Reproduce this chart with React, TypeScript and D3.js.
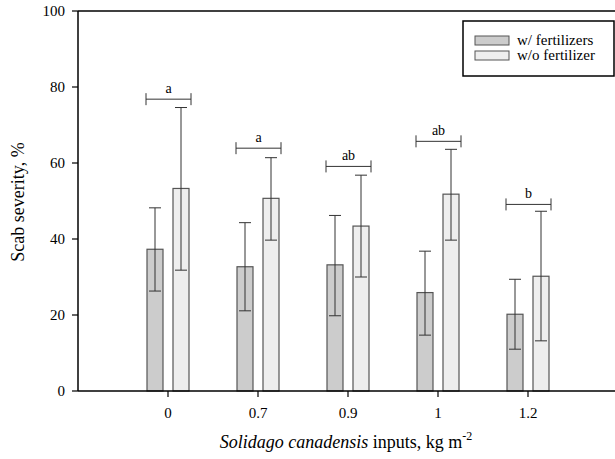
import React from "react";
import * as d3 from "d3";

const categories = ["0", "0.7", "0.9", "1", "1.2"];
const withFert = [37.3, 32.7, 33.2, 25.9, 20.2];
const withFertLow = [26.3, 21.1, 19.8, 14.7, 11.0];
const withFertHigh = [48.2, 44.3, 46.2, 36.8, 29.4];
const withoutFert = [53.3, 50.7, 43.4, 51.8, 30.2];
const withoutFertLow = [31.8, 39.7, 30.0, 39.7, 13.2];
const withoutFertHigh = [74.6, 61.4, 56.8, 63.6, 47.3];
const sigLetters = ["a", "a", "ab", "ab", "b"];
const sigLevel = [76.8, 63.9, 59.1, 65.7, 49.1];
const yTicks = [0, 20, 40, 60, 80, 100];
const seriesNames = ["w/ fertilizers", "w/o fertilizer"];
const seriesColors = ["#cccccc", "#eeeeee"];

const W = 615;
const H = 459;
const left = 78;
const right = 618;
const top = 11;
const bottom = 391;
const font = "Liberation Serif, Times New Roman, DejaVu Serif, serif";

export default function App() {
  const x = d3.scalePoint<string>().domain(categories).range([left, right]).padding(1);
  const y = d3.scaleLinear().domain([0, 100]).range([bottom, top]);
  const barW = 16;
  const gap = 5;
  const series = [
    { vals: withFert, lo: withFertLow, hi: withFertHigh, off: -gap - barW },
    { vals: withoutFert, lo: withoutFertLow, hi: withoutFertHigh, off: gap },
  ];
  return (
    <svg width={W} height={H} style={{ position: "absolute", left: 0, top: 0, fontFamily: font }}>
      <rect x={0} y={0} width={W} height={H} fill="#fff" />
      {series.map((s, si) =>
        categories.map((c, i) => {
          const x0 = (x(c) as number) + s.off;
          return (
            <g key={`b${si}-${i}`}>
              <rect
                x={x0}
                y={y(s.vals[i])}
                width={barW}
                height={bottom - y(s.vals[i])}
                fill={seriesColors[si]}
                stroke="#555"
                strokeWidth={1.2}
              />
              <line x1={x0 + barW / 2} x2={x0 + barW / 2} y1={y(s.lo[i])} y2={y(s.hi[i])} stroke="#333" strokeWidth={1} />
              <line x1={x0 + barW / 2 - 6} x2={x0 + barW / 2 + 6} y1={y(s.lo[i])} y2={y(s.lo[i])} stroke="#333" strokeWidth={1} />
              <line x1={x0 + barW / 2 - 6} x2={x0 + barW / 2 + 6} y1={y(s.hi[i])} y2={y(s.hi[i])} stroke="#333" strokeWidth={1} />
            </g>
          );
        })
      )}
      {categories.map((c, i) => {
        const cx = x(c) as number;
        const yy = y(sigLevel[i]);
        const x1 = cx - gap - barW - 1;
        const x2 = cx + gap + barW + 2;
        return (
          <g key={`s${i}`} stroke="#333" strokeWidth={1}>
            <line x1={x1} x2={x2} y1={yy} y2={yy} />
            <line x1={x1} x2={x1} y1={yy - 6} y2={yy + 6} />
            <line x1={x2} x2={x2} y1={yy - 6} y2={yy + 6} />
            <text x={(x1 + x2) / 2} y={yy - 6} textAnchor="middle" fontSize={14} fill="#000" stroke="none">
              {sigLetters[i]}
            </text>
          </g>
        );
      })}
      <line x1={left} x2={W} y1={top} y2={top} stroke="#000" strokeWidth={1.5} />
      <line x1={left} x2={W} y1={bottom} y2={bottom} stroke="#000" strokeWidth={1.5} />
      <line x1={left} x2={left} y1={top} y2={bottom} stroke="#000" strokeWidth={1.5} />
      {yTicks.map((t) => (
        <g key={`y${t}`}>
          <line x1={left - 6} x2={left} y1={y(t)} y2={y(t)} stroke="#000" strokeWidth={1.2} />
          <text x={left - 13} y={y(t) + 5} textAnchor="end" fontSize={15} fill="#000">
            {t}
          </text>
        </g>
      ))}
      {categories.map((c) => (
        <g key={`x${c}`}>
          <line x1={x(c)} x2={x(c)} y1={bottom} y2={bottom + 6} stroke="#000" strokeWidth={1.2} />
          <text x={x(c)} y={418} textAnchor="middle" fontSize={15} fill="#000">
            {c}
          </text>
        </g>
      ))}
      <text transform={`translate(24,${(top + bottom) / 2 + 1}) rotate(-90)`} textAnchor="middle" fontSize={18} fill="#000">
        Scab severity, %
      </text>
      <text x={346} y={448} textAnchor="middle" fontSize={18} fill="#000">
        <tspan fontStyle="italic">Solidago canadensis</tspan>
        <tspan> inputs, kg m</tspan>
        <tspan fontSize={12} dy={-8}>-2</tspan>
      </text>
      <rect x={463} y={21} width={151} height={55} fill="#fff" stroke="#000" strokeWidth={1.5} />
      {seriesNames.map((n, i) => (
        <g key={`l${i}`}>
          <rect x={475} y={36 + i * 15} width={34} height={9} fill={seriesColors[i]} stroke="#555" strokeWidth={1} />
          <text x={517} y={45 + i * 15} fontSize={15} fill="#000">
            {n}
          </text>
        </g>
      ))}
    </svg>
  );
}
